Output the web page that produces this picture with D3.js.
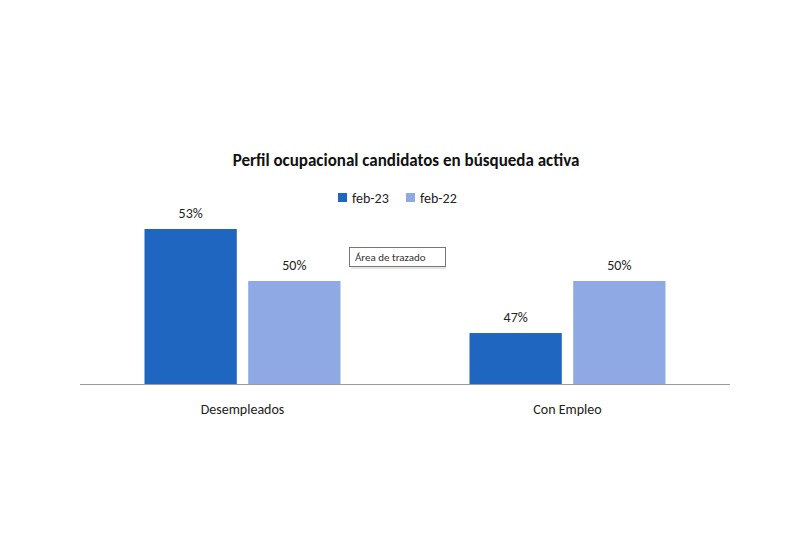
<!DOCTYPE html>
<html><head><meta charset="utf-8">
<script src="https://cdn.jsdelivr.net/npm/d3@7"></script>
<style>body{margin:0;background:#fff}</style>
</head><body><div id="chart"></div>
<script>
var categories = ["Desempleados", "Con Empleo"];
var seriesNames = ["feb-23", "feb-22"];
var feb23 = [53, 47];
var feb22 = [50, 50];
var colors = ["#1f66c1", "#8ea9e3"];

var W = 810, H = 557;
var svg = d3.select("#chart").append("svg").attr("width", W).attr("height", H);
var font = "Carlito, 'Liberation Sans', Arial, sans-serif";

var x = d3.scaleBand().domain(categories).range([80, 730]);
var xs = d3.scaleBand().domain(seriesNames).range([0, 196]).paddingInner(0.11);
var y = d3.scaleLinear().domain([44.06, 53]).range([384, 229]);

var rows = categories.map(function(c, i) { return {cat: c, vals: [feb23[i], feb22[i]]}; });

// bars
var g = svg.selectAll(".grp").data(rows).enter().append("g")
    .attr("transform", function(d) { return "translate(" + (x(d.cat) + x.bandwidth() / 2 - 98) + ",0)"; });
g.selectAll("rect").data(function(d) { return d.vals.map(function(v, j) { return {v: v, s: seriesNames[j], j: j}; }); })
    .enter().append("rect")
    .attr("x", function(d) { return xs(d.s); })
    .attr("width", xs.bandwidth())
    .attr("y", function(d) { return y(d.v); })
    .attr("height", function(d) { return 384 - y(d.v); })
    .style("fill", function(d) { return colors[d.j]; });
g.selectAll("text").data(function(d) { return d.vals.map(function(v, j) { return {v: v, s: seriesNames[j]}; }); })
    .enter().append("text")
    .attr("x", function(d) { return xs(d.s) + xs.bandwidth() / 2; })
    .attr("y", function(d) { return y(d.v) - 11; })
    .attr("text-anchor", "middle")
    .style("font-family", font).style("font-size", "14px").style("fill", "#222")
    .text(function(d) { return d.v + "%"; });

// axis line
svg.append("line").attr("x1", 80).attr("x2", 730).attr("y1", 384.5).attr("y2", 384.5)
    .style("stroke", "#999").style("stroke-width", 1);
svg.selectAll(".cat").data(categories).enter().append("text")
    .attr("x", function(d) { return x(d) + x.bandwidth() / 2; })
    .attr("y", 414).attr("text-anchor", "middle")
    .style("font-family", font).style("font-size", "14px").style("fill", "#222")
    .text(function(d) { return d; });

// title
svg.append("text").attr("x", 406).attr("y", 166).attr("text-anchor", "middle")
    .style("font-family", font).style("font-size", "17px").style("font-weight", "bold").style("fill", "#111")
    .text("Perfil ocupacional candidatos en búsqueda activa");

// legend
var lx = [338, 406];
seriesNames.forEach(function(s, i) {
    svg.append("rect").attr("x", lx[i]).attr("y", 193).attr("width", 9).attr("height", 9).style("fill", colors[i]);
    svg.append("text").attr("x", lx[i] + 14).attr("y", 203)
        .style("font-family", font).style("font-size", "14px").style("fill", "#222").text(s);
});

// tooltip box
svg.append("rect").attr("x", 349.5).attr("y", 247.5).attr("width", 96).attr("height", 19)
    .style("fill", "#fff").style("stroke", "#777");
svg.append("line").attr("x1", 351).attr("x2", 446).attr("y1", 268).attr("y2", 268).style("stroke", "#ccc");
svg.append("text").attr("x", 355).attr("y", 261)
    .style("font-family", font).style("font-size", "11px").style("fill", "#333").text("Área de trazado");
</script></body></html>
